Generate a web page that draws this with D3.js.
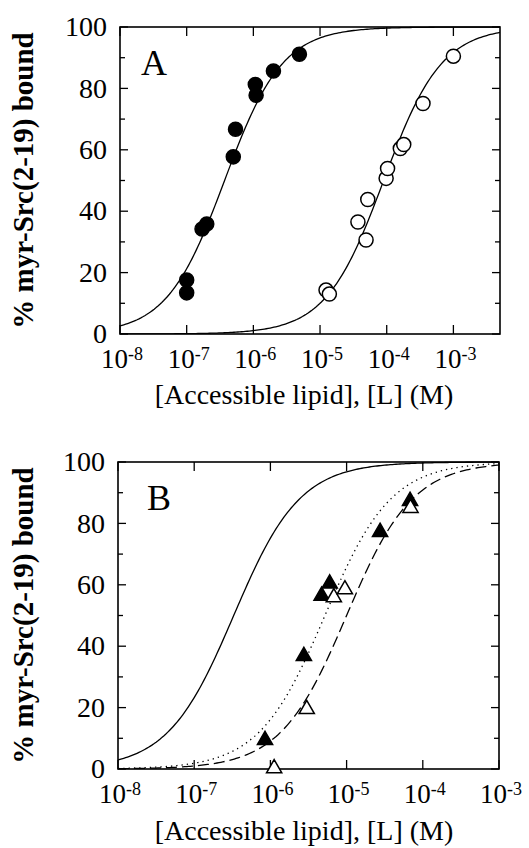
<!DOCTYPE html>
<html>
<head>
<meta charset="utf-8">
<script src="https://cdn.jsdelivr.net/npm/d3@7"></script>
<style>
  body { margin: 0; background: #fff; }
  text { font-family: "Liberation Serif", "Times New Roman", serif; fill: #000; }
</style>
</head>
<body>
<div id="chart"></div>
<script>
// panel A: filled = high affinity lipid, open = low affinity lipid
var aFilledL = [1.0e-7, 1.0e-7, 1.7e-7, 2.0e-7, 5.0e-7, 5.4e-7, 1.07e-6, 1.1e-6, 2.0e-6, 4.9e-6];
var aFilledB = [17.6, 13.4, 34.2, 35.8, 57.7, 66.7, 81.3, 77.8, 85.7, 91.1];
var aOpenL = [1.23e-5, 1.38e-5, 3.7e-5, 4.9e-5, 5.2e-5, 9.8e-5, 1.03e-4, 1.6e-4, 1.8e-4, 3.5e-4, 1.0e-3];
var aOpenB = [14.3, 13.0, 36.5, 30.6, 43.8, 50.7, 53.9, 60.4, 61.7, 75.1, 90.5];

// panel B: triangles
var bFilledL = [8.5e-7, 2.75e-6, 4.7e-6, 6.0e-6, 2.75e-5, 6.8e-5];
var bFilledB = [9.4, 36.8, 56.4, 60.4, 77.2, 87.3];
var bOpenL = [1.12e-6, 3.0e-6, 6.8e-6, 9.5e-6, 6.9e-5];
var bOpenB = [0.2, 19.5, 55.9, 58.5, 85.0];

// [L] at half binding
var aHalf = [3.7e-7, 9.0e-5];          // solid, solid
var bHalf = [3.3e-7, 5.2e-6, 1.0e-5];  // solid, dotted, dashed
var bStyles = ["none", "1.3,4", "11,5"];

var xTicks = [-8, -7, -6, -5, -4, -3];
var yTicks = [0, 20, 40, 60, 80, 100];
var yMinor = [10, 30, 50, 70, 90];

var W = 529, H = 848;
var svg = d3.select("#chart").append("svg")
    .attr("width", W)
    .attr("height", H);

function zip(xs, ys) {
  return xs.map(function(x, i) { return {L: x, b: ys[i]}; });
}

function isotherm(half, xDomain) {
  var pts = [];
  var lo = Math.log10(xDomain[0]), hi = Math.log10(xDomain[1]);
  for (var i = 0; i <= 200; i++) {
    var L = Math.pow(10, lo + (hi - lo) * i / 200);
    pts.push({L: L, b: 100 * (L / half) / (1 + L / half)});
  }
  return pts;
}

function drawPanel(cfg) {
  var x = d3.scaleLog().domain(cfg.xDomain).range([cfg.left, cfg.right]);
  var y = d3.scaleLinear().domain([0, 100]).range([cfg.bottom, cfg.top]);
  var g = svg.append("g");

  var clipId = "clip" + cfg.name;
  g.append("clipPath").attr("id", clipId)
    .append("rect")
    .attr("x", cfg.left).attr("y", cfg.top - 1)
    .attr("width", cfg.right - cfg.left).attr("height", cfg.bottom - cfg.top + 1);

  // ticks, inward on all four sides
  var tk = g.append("g").attr("stroke", "#000").attr("stroke-width", 1.3);
  yTicks.concat(yMinor).forEach(function(v) {
    var len = yTicks.indexOf(v) >= 0 ? 8 : 5;
    tk.append("line").attr("x1", cfg.left).attr("x2", cfg.left + len)
      .attr("y1", y(v)).attr("y2", y(v));
    tk.append("line").attr("x1", cfg.right).attr("x2", cfg.right - len)
      .attr("y1", y(v)).attr("y2", y(v));
  });
  xTicks.forEach(function(e) {
    var v = Math.pow(10, e);
    if (v > cfg.xDomain[1] * 1.0001) return;
    tk.append("line").attr("x1", x(v)).attr("x2", x(v))
      .attr("y1", cfg.bottom).attr("y2", cfg.bottom - 9);
    tk.append("line").attr("x1", x(v)).attr("x2", x(v))
      .attr("y1", cfg.top).attr("y2", cfg.top + 9);
  });

  // y tick labels
  g.selectAll(".ylab").data(yTicks).enter().append("text")
    .attr("x", cfg.left - 13)
    .attr("y", function(d) { return y(d); })
    .attr("dy", "0.33em")
    .attr("text-anchor", "end")
    .style("font-size", "28px")
    .text(function(d) { return d; });

  // x tick labels as 10^n
  xTicks.forEach(function(e) {
    var v = Math.pow(10, e);
    if (v > cfg.xDomain[1] * 1.0001) return;
    var t = g.append("text")
      .attr("x", x(v) + 2)
      .attr("y", cfg.bottom + 34)
      .attr("text-anchor", "middle")
      .style("font-size", "27px");
    t.append("tspan").text("10");
    t.append("tspan").attr("dy", -8).style("font-size", "18px").text(String(e));
  });

  // axis titles
  g.append("text")
    .attr("transform", "translate(" + cfg.yTitleX + "," + ((cfg.top + cfg.bottom) / 2) + ") rotate(-90)")
    .attr("text-anchor", "middle")
    .style("font-size", "29px")
    .style("font-weight", "bold")
    .text("% myr-Src(2-19) bound");
  g.append("text")
    .attr("x", cfg.xTitleX)
    .attr("y", cfg.xTitleY)
    .attr("text-anchor", "middle")
    .style("font-size", "28px")
    .text("[Accessible lipid], [L] (M)");

  // panel letter
  g.append("text")
    .attr("x", cfg.letterX).attr("y", cfg.letterY)
    .style("font-size", "36px")
    .text(cfg.name);

  // fitted curves
  var line = d3.line()
    .x(function(d) { return x(d.L); })
    .y(function(d) { return y(d.b); });
  var cg = g.append("g").attr("clip-path", "url(#" + clipId + ")");
  cfg.halves.forEach(function(h, i) {
    cg.append("path")
      .datum(isotherm(h, cfg.xDomain))
      .attr("d", line)
      .attr("fill", "none")
      .attr("stroke", "#000")
      .attr("stroke-width", 1.3)
      .attr("stroke-dasharray", cfg.dashes[i]);
  });

  // frame
  g.append("rect")
    .attr("x", cfg.left).attr("y", cfg.top)
    .attr("width", cfg.right - cfg.left).attr("height", cfg.bottom - cfg.top)
    .attr("fill", "none")
    .attr("stroke", "#000")
    .attr("stroke-width", 1.6);

  // data points
  var sym = d3.symbol().type(cfg.symbol).size(cfg.symSize);
  [[cfg.filled, "#000"], [cfg.open, "#fff"]].forEach(function(s) {
    g.append("g").selectAll("path")
      .data(s[0])
      .enter().append("path")
      .attr("transform", function(d) { return "translate(" + x(d.L) + "," + y(d.b) + ")"; })
      .attr("d", sym)
      .attr("fill", s[1])
      .attr("stroke", "#000")
      .attr("stroke-width", 1.5);
  });
}

drawPanel({
  name: "A",
  xDomain: [1e-8, 5e-3],
  left: 120, right: 500, top: 27, bottom: 334,
  yTitleX: 33, xTitleX: 304, xTitleY: 404,
  letterX: 141, letterY: 75,
  halves: aHalf, dashes: ["none", "none"],
  symbol: d3.symbolCircle, symSize: 155,
  filled: zip(aFilledL, aFilledB),
  open: zip(aOpenL, aOpenB)
});

drawPanel({
  name: "B",
  xDomain: [1e-8, 1e-3],
  left: 118, right: 499, top: 462, bottom: 769,
  yTitleX: 33, xTitleX: 304, xTitleY: 840,
  letterX: 147, letterY: 510,
  halves: bHalf, dashes: bStyles,
  symbol: d3.symbolTriangle, symSize: 100,
  filled: zip(bFilledL, bFilledB),
  open: zip(bOpenL, bOpenB)
});
</script>
</body>
</html>
